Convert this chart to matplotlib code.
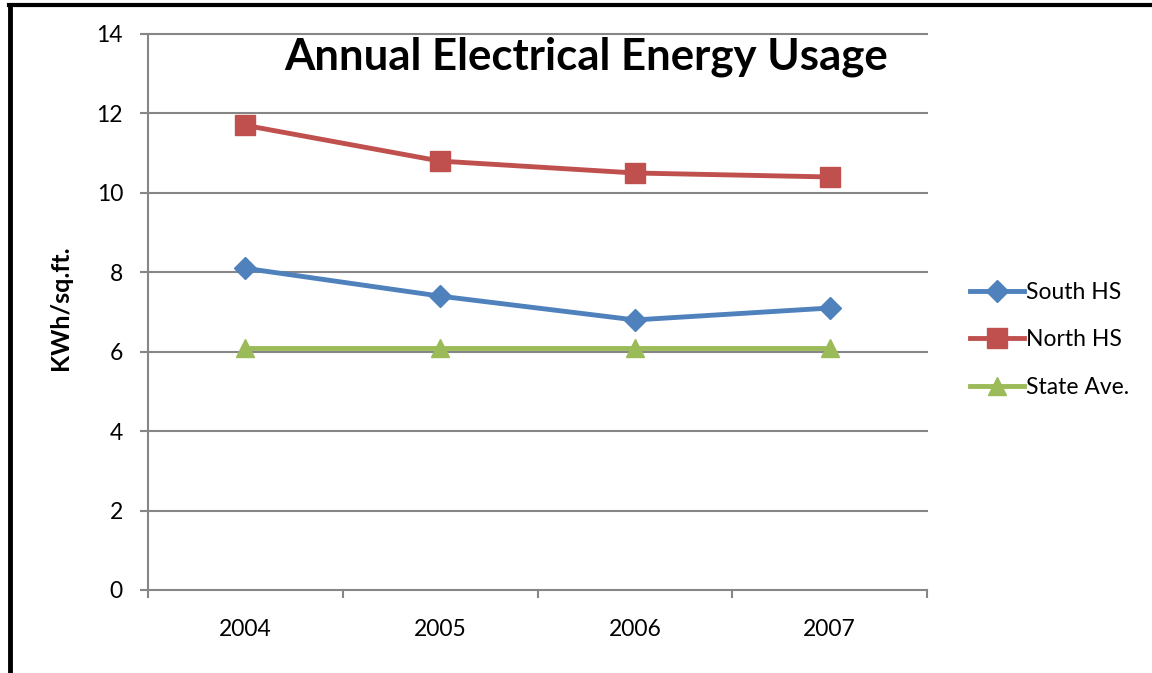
import matplotlib
matplotlib.use("Agg")
import matplotlib.pyplot as plt
from matplotlib.lines import Line2D

plt.rcParams['font.family'] = ['Lato', 'DejaVu Sans']

# Annual electrical energy use per square foot
years = ['2004', '2005', '2006', '2007']
south_hs = [8.1, 7.4, 6.8, 7.1]
north_hs = [11.7, 10.8, 10.5, 10.4]
state_ave = [6.1, 6.1, 6.1, 6.1]
y_ticks = [0, 2, 4, 6, 8, 10, 12, 14]

BLUE = '#4F81BD'
RED = '#C0504D'
GREEN = '#9BBB59'
GRID = '#868686'
FS = 16.5

fig = plt.figure(figsize=(11.52, 6.73), dpi=100)
ax = fig.add_axes([148 / 1152, 1 - 590 / 673, (927 - 148) / 1152, (590 - 34) / 673])

x = list(range(len(years)))
ax.plot(x, south_hs, color=BLUE, lw=3.5, marker='D', ms=11, label='South HS', zorder=3)
ax.plot(x, north_hs, color=RED, lw=3.5, marker='s', ms=14, label='North HS', zorder=3)
ax.plot(x, state_ave, color=GREEN, lw=3.5, marker='^', ms=13, label='State Ave.', zorder=3)

ax.set_xlim(-0.5, len(years) - 0.5)
ax.set_ylim(0, 14)
ax.set_yticks(y_ticks)
ax.set_yticklabels([str(v) for v in y_ticks], fontsize=FS)
for v in y_ticks[1:]:
    ax.axhline(v, color=GRID, lw=1.5, zorder=1, clip_on=False)

# category labels sit between the boundary ticks
ax.set_xticks([i - 0.5 for i in range(len(years) + 1)])
ax.set_xticklabels([])
ax.set_xticks(x, minor=True)
ax.set_xticklabels(years, minor=True, fontsize=FS)
ax.tick_params(axis='x', which='minor', length=0, pad=21)
ax.tick_params(axis='x', which='major', length=6, width=1.5, color=GRID, direction='out')
ax.tick_params(axis='y', length=6, width=1.5, color=GRID, direction='out', pad=12)

for side in ['top', 'right']:
    ax.spines[side].set_visible(False)
for side in ['left', 'bottom']:
    ax.spines[side].set_color(GRID)
    ax.spines[side].set_linewidth(1.5)

ax.set_ylabel('KWh/sq.ft.', fontsize=18, fontweight='bold')
ax.yaxis.set_label_coords(-0.097, 0.508)
ax.text(0.562, 0.9586, 'Annual Electrical Energy Usage', transform=ax.transAxes,
        ha='center', va='center', fontsize=31.5, fontweight='bold')

handles = [
    Line2D([], [], color=BLUE, lw=3.5, marker='D', ms=11),
    Line2D([], [], color=RED, lw=3.5, marker='s', ms=14),
    Line2D([], [], color=GREEN, lw=3.5, marker='^', ms=13),
]
fig.legend(handles, ['South HS', 'North HS', 'State Ave.'], loc='center left',
           bbox_to_anchor=(952 / 1152, 1 - 340 / 673), frameon=False, fontsize=FS,
           handlelength=2.35, handletextpad=0.1, labelspacing=1.15, borderpad=0.3)

# outer frame: left and top edges
fig.add_artist(Line2D([10 / 1152, 10 / 1152], [0, 1 - 5 / 673], color='black', lw=3.5,
                      transform=fig.transFigure))
fig.add_artist(Line2D([8.5 / 1152, 1], [1 - 5 / 673, 1 - 5 / 673], color='black', lw=3,
                      transform=fig.transFigure))

fig.savefig('out.png', dpi=100, facecolor='white')
